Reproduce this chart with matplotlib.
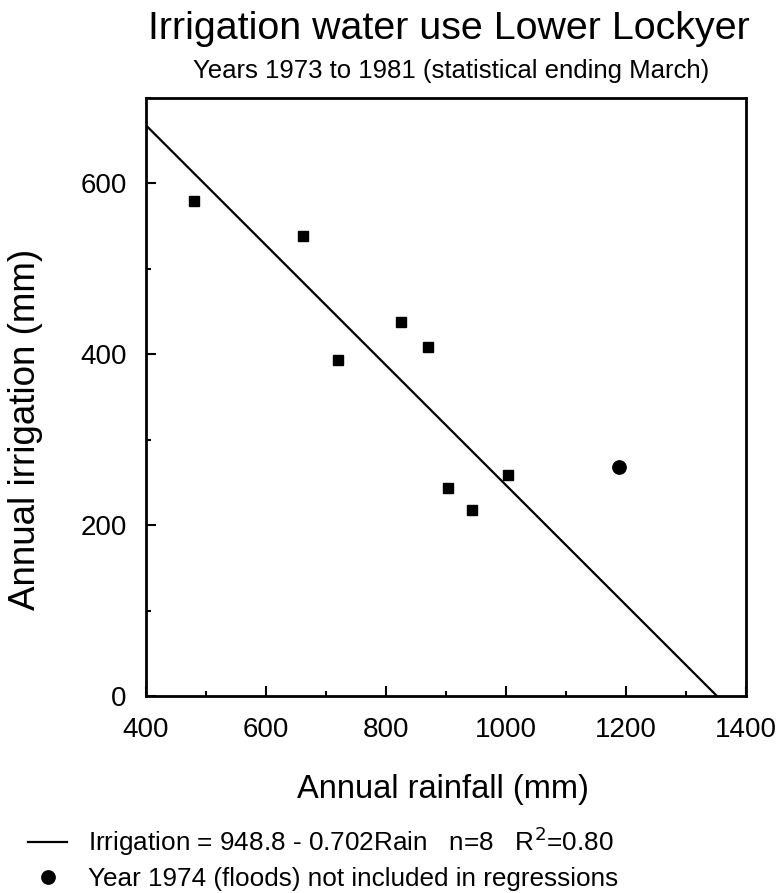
import matplotlib
matplotlib.use("Agg")
import matplotlib.pyplot as plt
from matplotlib.ticker import MultipleLocator
import numpy as np

plt.rcParams['font.family'] = ['Liberation Sans', 'DejaVu Sans']

# data
rain = [480, 661, 720, 825, 870, 904, 944, 1004]
irrigation = [579, 539, 393, 438, 408, 244, 218, 259]
flood_rain = [1189]
flood_irrigation = [268]
intercept = 948.8
slope = -0.702

fig = plt.figure(figsize=(7.8, 8.93), dpi=100)
ax = fig.add_axes([146 / 780, 1 - 696 / 893, 600 / 780, 598 / 893])

x_fit = np.array([400, intercept / -slope])
line, = ax.plot(x_fit, intercept + slope * x_fit, color='black', lw=1.6)
ax.plot(rain, irrigation, 's', color='black', ms=7.8)
dot, = ax.plot(flood_rain, flood_irrigation, 'o', color='black', ms=9.6)

ax.set_xlim(400, 1400)
ax.set_ylim(0, 700)
ax.xaxis.set_major_locator(MultipleLocator(200))
ax.xaxis.set_minor_locator(MultipleLocator(100))
ax.yaxis.set_major_locator(MultipleLocator(200))
ax.yaxis.set_minor_locator(MultipleLocator(100))
ax.tick_params(which='both', direction='in', top=False, right=False, width=1.5,
               labelsize=20)
ax.tick_params(axis='x', which='both', pad=15)
ax.tick_params(axis='y', which='both', pad=14)
ax.tick_params(which='major', length=7)
ax.tick_params(which='minor', length=3.6)
for s in ax.spines.values():
    s.set_linewidth(2)

ax.set_xlabel('Annual rainfall (mm)', fontsize=23.5)
ax.xaxis.set_label_coords(0.495, -0.13)
ax.set_ylabel('Annual irrigation (mm)', fontsize=26.5)
ax.yaxis.set_label_coords(-0.172, 0.445)

fig.text(449 / 780, 1 - 39 / 893, 'Irrigation water use Lower Lockyer', fontsize=28.4,
         ha='center', va='baseline')
fig.text(451 / 780, 1 - 78 / 893, 'Years 1973 to 1981 (statistical ending March)',
         fontsize=18.5, ha='center', va='baseline')

fig.legend([line, dot],
           ['Irrigation = 948.8 - 0.702Rain   n=8   R$^2$=0.80',
            'Year 1974 (floods) not included in regressions'],
           loc='upper left', bbox_to_anchor=(28 / 780, 1 - 825 / 893), frameon=False,
           borderpad=0, borderaxespad=0,
           fontsize=18.8, handlelength=1.5, handletextpad=0.8, labelspacing=0.33)

fig.savefig('out.png', dpi=100)
